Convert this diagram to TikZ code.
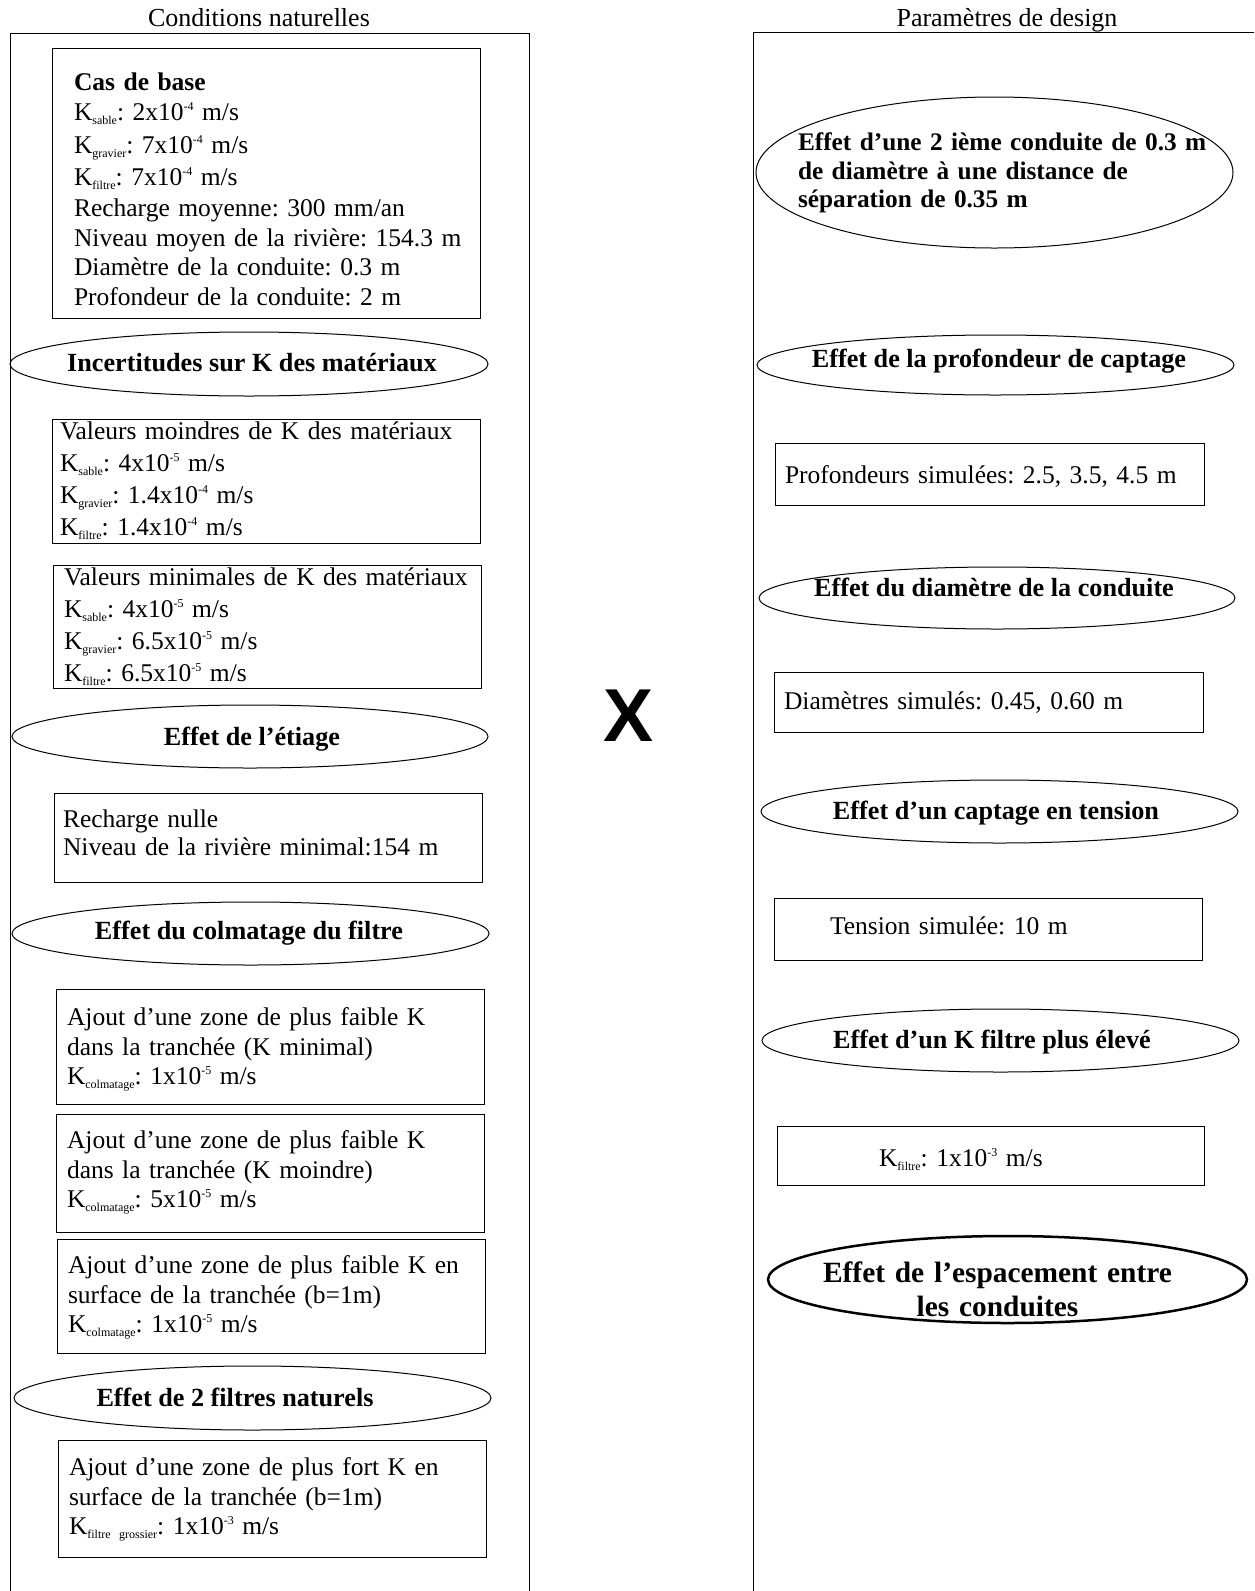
\documentclass[tikz,border=0pt]{standalone}
\usepackage{fontspec}
\setmainfont{Liberation Serif}
\newfontfamily\xfont{Liberation Sans}
\usetikzlibrary{shapes.geometric}
\frenchspacing
\newcommand\ksb[1]{K\raisebox{-4pt}{\fontsize{12}{12}\selectfont #1}}
\newcommand\ex[1]{\raisebox{10pt}{\fontsize{12}{12}\selectfont #1}}
\begin{document}
\begin{tikzpicture}[x=1pt,y=-1pt,
  every node/.style={inner sep=0pt, outer sep=0pt},
  panel/.style={line width=1pt, draw=black},
  boxr/.style={draw=black, line width=1pt, rectangle, anchor=north west},
  ell/.style={draw=black, line width=1pt, ellipse},
  body/.style={font=\frenchspacing\fontsize{25.5}{29.5}\selectfont, text width=440pt, align=left, anchor=base west},
  head/.style={font=\bfseries\fontsize{26.2}{29.5}\selectfont, anchor=base},
  title/.style={font=\fontsize{26}{30}\selectfont, anchor=base}
  ]
\fill[white] (0,0) rectangle (1254,1591);
\useasboundingbox (0,0) rectangle (1254,1591);

% panels
\node[title] (tl) at (259,26) {Conditions naturelles};
\node[title] (tr) at (1007,26.5) {Paramètres de design};
\coordinate (pl1) at (10,1591);
\coordinate (pl2) at (10,33);
\coordinate (pl3) at (529,33);
\coordinate (pl4) at (529,1591);
\draw[panel] (pl1) -- (pl2) -- (pl3) -- (pl4);
\coordinate (pr1) at (753,1591);
\coordinate (pr2) at (753,32.5);
\coordinate (pr3) at (1254,32.5);
\draw[panel] (pr1) -- (pr2) -- (pr3);

% big X
\node[font=\xfont\bfseries\fontsize{75}{78}\selectfont] (xx) at (629,716) {X};

% ----- left column -----
\node[boxr, minimum width=428pt, minimum height=270pt] (b1) at (52,48) {};
\node[body] (b1t) at (74,90.6) {\textbf{Cas de base}\\[0.5pt]
\ksb{sable}: 2x10\ex{-4} m/s\\[3pt]
\ksb{gravier}: 7x10\ex{-4} m/s\\[3pt]
\ksb{filtre}: 7x10\ex{-4} m/s\\[1.5pt]
Recharge moyenne: 300 mm/an\\
Niveau moyen de la rivière: 154.3 m\\
Diamètre de la conduite: 0.3 m\\
Profondeur de la conduite: 2 m};

\node[ell, minimum width=478pt, minimum height=64pt] (e1) at (249,364) {};
\node[head] (e1t) at (252,371.6) {Incertitudes sur K des matériaux};

\node[boxr, minimum width=428pt, minimum height=124pt] (b2) at (52,419) {};
\node[body] (b2t) at (60,439.6) {Valeurs moindres de K des matériaux\\[2.5pt]
\ksb{sable}: 4x10\ex{-5} m/s\\[2.5pt]
\ksb{gravier}: 1.4x10\ex{-4} m/s\\[2.5pt]
\ksb{filtre}: 1.4x10\ex{-4} m/s};

\node[boxr, minimum width=428pt, minimum height=123pt] (b3) at (53,565) {};
\node[body] (b3t) at (64,585.6) {Valeurs minimales de K des matériaux\\[2.5pt]
\ksb{sable}: 4x10\ex{-5} m/s\\[2.5pt]
\ksb{gravier}: 6.5x10\ex{-5} m/s\\[2.5pt]
\ksb{filtre}: 6.5x10\ex{-5} m/s};

\node[ell, minimum width=476pt, minimum height=63pt] (e2) at (250,736.5) {};
\node[head] (e2t) at (252,745.6) {Effet de l’étiage};

\node[boxr, minimum width=428pt, minimum height=89pt] (b4) at (54,793) {};
\node[body] (b4t) at (63,827.6) {Recharge nulle\\[-1.5pt]
Niveau de la rivière minimal:154 m};

\node[ell, minimum width=477pt, minimum height=63pt] (e3) at (250.5,933.5) {};
\node[head] (e3t) at (249,939.6) {Effet du colmatage du filtre};

\node[boxr, minimum width=428pt, minimum height=115pt] (b5) at (56,989) {};
\node[body] (b5t) at (67,1025.6) {Ajout d’une zone de plus faible K\\
dans la tranchée (K minimal)\\
\ksb{colmatage}: 1x10\ex{-5} m/s};

\node[boxr, minimum width=428pt, minimum height=118pt] (b6) at (56,1114) {};
\node[body] (b6t) at (67,1148.6) {Ajout d’une zone de plus faible K\\
dans la tranchée (K moindre)\\
\ksb{colmatage}: 5x10\ex{-5} m/s};

\node[boxr, minimum width=428pt, minimum height=114pt] (b7) at (57,1239) {};
\node[body] (b7t) at (68,1273.6) {Ajout d’une zone de plus faible K en\\
surface de la tranchée (b=1m)\\
\ksb{colmatage}: 1x10\ex{-5} m/s};

\node[ell, minimum width=477pt, minimum height=64pt] (e4) at (252.5,1398) {};
\node[head] (e4t) at (235,1406.6) {Effet de 2 filtres naturels};

\node[boxr, minimum width=428pt, minimum height=117pt] (b8) at (58,1440) {};
\node[body] (b8t) at (69,1475.6) {Ajout d’une zone de plus fort K en\\
surface de la tranchée (b=1m)\\
\ksb{filtre grossier}: 1x10\ex{-3} m/s};

% ----- right column -----
\node[ell, minimum width=477pt, minimum height=151pt] (r1) at (994.5,172.5) {};
\node[font=\bfseries\fontsize{25.3}{28.5}\selectfont, text width=440pt, align=left, anchor=base west] (r1t) at (798,150.6) {Effet d’une 2 ième conduite de 0.3 m\\
de diamètre à une distance de\\
séparation de 0.35 m};

\node[ell, minimum width=477pt, minimum height=60pt] (r2) at (995.5,365) {};
\node[head] (r2t) at (999,367.6) {Effet de la profondeur de captage};
\node[boxr, minimum width=429pt, minimum height=62pt] (rb1) at (775,443) {};
\node[body] (rb1t) at (785,483.6) {Profondeurs simulées: 2.5, 3.5, 4.5 m};

\node[ell, minimum width=476pt, minimum height=62pt] (r3) at (997,598) {};
\node[head] (r3t) at (994,596) {Effet du diamètre de la conduite};
\node[boxr, minimum width=429pt, minimum height=60pt] (rb2) at (774,672) {};
\node[body] (rb2t) at (784,709.6) {Diamètres simulés: 0.45, 0.60 m};

\node[ell, minimum width=477pt, minimum height=63pt] (r4) at (999.5,811.5) {};
\node[head] (r4t) at (996,819.6) {Effet d’un captage en tension};
\node[boxr, minimum width=428pt, minimum height=62pt] (rb3) at (774,898) {};
\node[body] (rb3t) at (830,934.6) {Tension simulée: 10 m};

\node[ell, minimum width=477pt, minimum height=63pt] (r5) at (1000.5,1040.5) {};
\node[head] (r5t) at (992,1048.6) {Effet d’un K filtre plus élevé};
\node[boxr, minimum width=427pt, minimum height=59pt] (rb4) at (777,1126) {};
\node[body] (rb4t) at (879,1166.6) {\ksb{filtre}: 1x10\ex{-3} m/s};

\node[ell, line width=2.5pt, minimum width=479pt, minimum height=87pt] (r6) at (1007.5,1279.5) {};
\node[font=\bfseries\fontsize{29.4}{34}\selectfont, text width=460pt, align=center, anchor=base] (r6t) at (997.5,1282.7) {Effet de l’espacement entre\\les conduites};
\end{tikzpicture}
\end{document}
